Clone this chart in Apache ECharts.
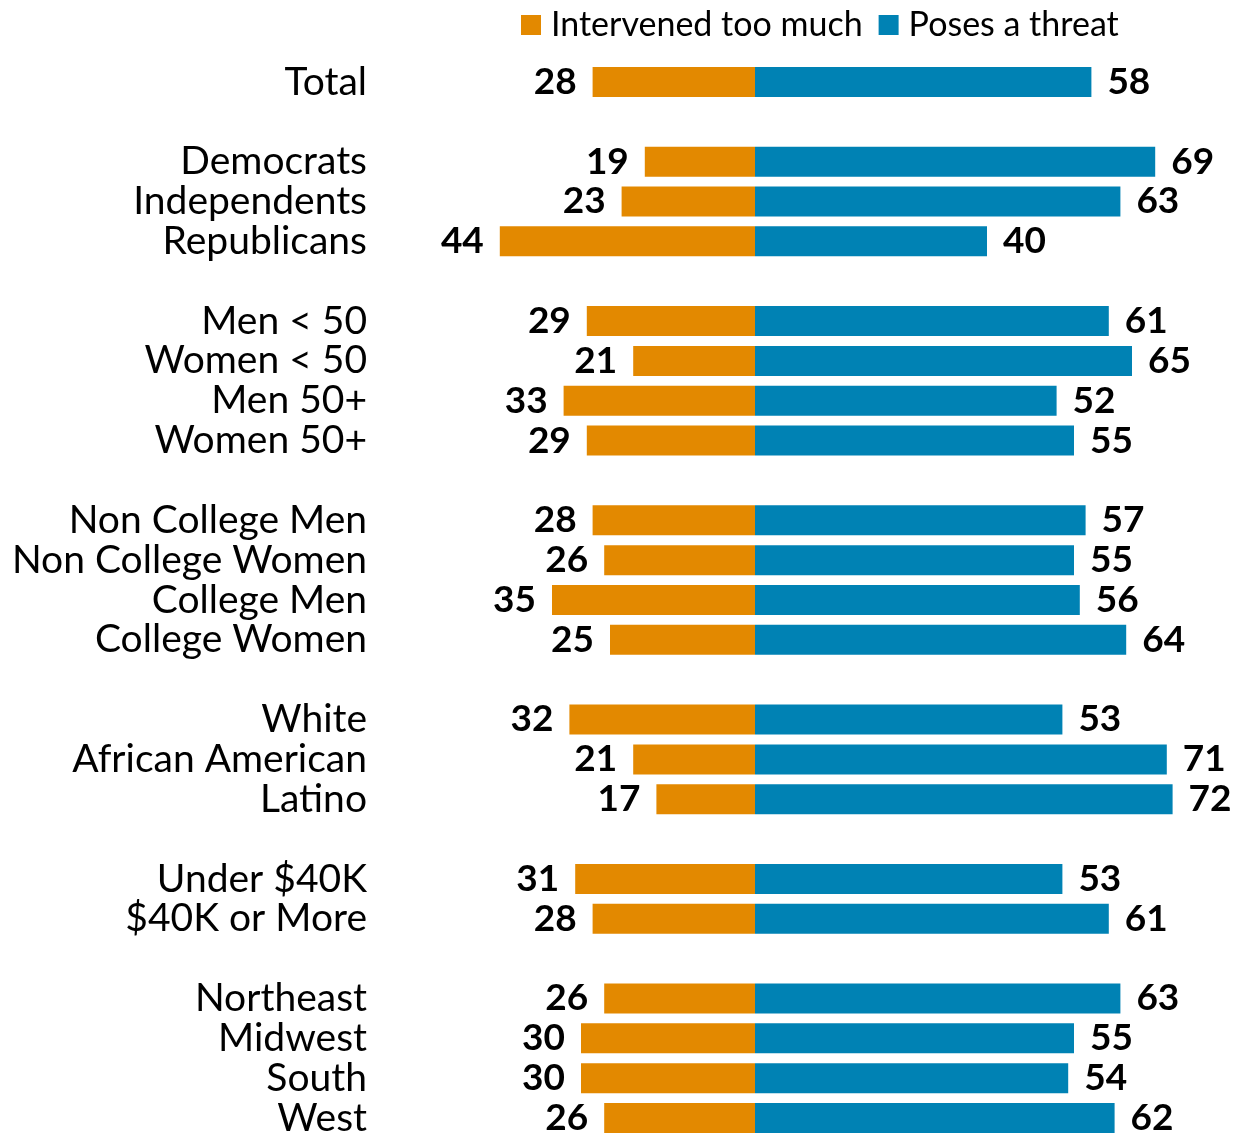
<!DOCTYPE html>
<html>
<head>
<meta charset="utf-8">
<script src="https://cdn.jsdelivr.net/npm/echarts@6/dist/echarts.min.js"></script>
<style>
  html, body { margin: 0; padding: 0; background: #ffffff; }
  #chart { width: 1237px; height: 1138px; }
</style>
</head>
<body>
<div id="chart"></div>
<script>
// Groups are separated by an empty row; empty rows carry no values.
const categories = [
  'Total', '',
  'Democrats', 'Independents', 'Republicans', '',
  'Men < 50', 'Women < 50', 'Men 50+', 'Women 50+', '',
  'Non College Men', 'Non College Women', 'College Men', 'College Women', '',
  'White', 'African American', 'Latino', '',
  'Under $40K', '$40K or More', '',
  'Northeast', 'Midwest', 'South', 'West'
];
const intervenedTooMuch = [
  28, null,
  19, 23, 44, null,
  29, 21, 33, 29, null,
  28, 26, 35, 25, null,
  32, 21, 17, null,
  31, 28, null,
  26, 30, 30, 26
];
const posesAThreat = [
  58, null,
  69, 63, 40, null,
  61, 65, 52, 55, null,
  57, 55, 56, 64, null,
  53, 71, 72, null,
  53, 61, null,
  63, 55, 54, 62
];

const FONT = 'Lato';
// Blank rows need distinct keys on the category axis.
const axisKeys = categories.map((c, i) => c === '' ? 'gap' + i : c);

const chart = echarts.init(document.getElementById('chart'));
chart.setOption({
  animation: false,
  textStyle: { fontFamily: FONT },
  legend: {
    left: 516, top: 3,
    itemWidth: 20, itemHeight: 20, itemGap: 16,
    icon: 'rect',
    textStyle: { fontSize: 34, color: '#000', fontFamily: FONT, padding: [0, 0, 0, 5] },
    data: ['Intervened too much', 'Poses a threat']
  },
  grid: { left: 407, width: 812, top: 62, height: 1080, containLabel: false },
  xAxis: {
    type: 'value', min: -60, max: 80, show: false,
    splitLine: { show: false }
  },
  yAxis: {
    type: 'category', inverse: true, data: axisKeys,
    axisLine: { show: false }, axisTick: { show: false },
    axisLabel: {
      interval: 0, margin: 40, fontSize: 39, color: '#000', fontFamily: FONT,
      formatter: v => v.startsWith('gap') ? '' : v
    }
  },
  series: [
    {
      name: 'Intervened too much', type: 'bar', stack: 'all', barWidth: 30,
      itemStyle: { color: '#E38900' },
      data: intervenedTooMuch.map(v => v == null ? null : -v),
      label: {
        show: true, position: 'left', distance: 16,
        fontSize: 37, fontWeight: 'bold', color: '#000', fontFamily: FONT,
        formatter: p => p.value == null ? '' : Math.abs(p.value)
      }
    },
    {
      name: 'Poses a threat', type: 'bar', stack: 'all', barWidth: 30,
      itemStyle: { color: '#0082B4' },
      data: posesAThreat,
      label: {
        show: true, position: 'right', distance: 16,
        fontSize: 37, fontWeight: 'bold', color: '#000', fontFamily: FONT,
        formatter: p => p.value == null ? '' : p.value
      }
    }
  ]
});
</script>
</body>
</html>
